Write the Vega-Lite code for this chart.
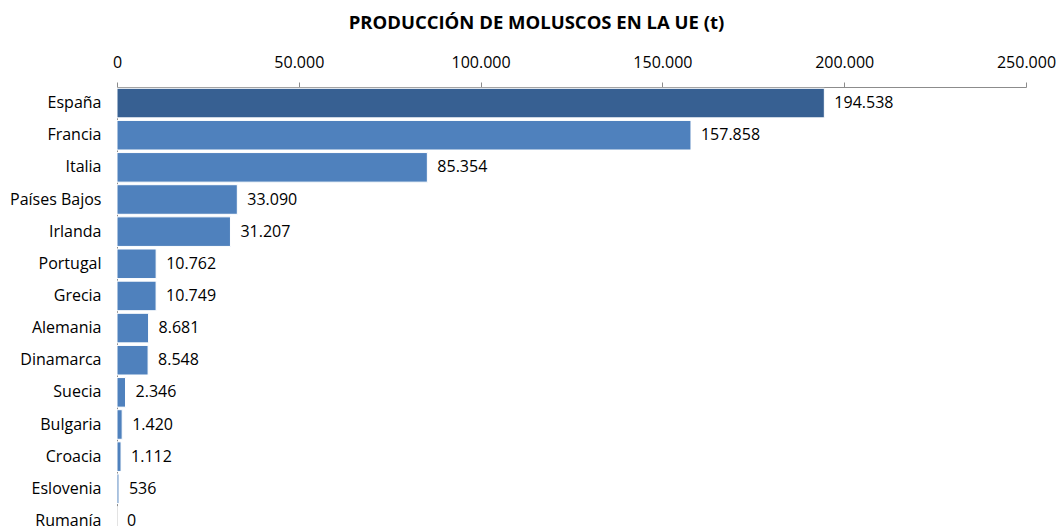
{
  "$schema": "https://vega.github.io/schema/vega-lite/v6.json",
  "autosize": {"type": "none"},
  "width": 909,
  "height": 450,
  "padding": {"left": 117, "top": 87, "right": 32, "bottom": 0},
  "background": "white",
  "config": {
    "locale": {"number": {"decimal": ",", "thousands": ".", "grouping": [3], "currency": ["", " €"]}},
    "view": {"stroke": null},
    "font": "Open Sans"
  },
  "title": {
    "text": "PRODUCCIÓN DE MOLUSCOS EN LA UE (t)",
    "fontSize": 18.5,
    "fontWeight": "bold",
    "font": "Open Sans",
    "color": "black",
    "dx": -35,
    "offset": 22
  },
  "data": {
    "values": [
      {"pais": "España", "t": 194538},
      {"pais": "Francia", "t": 157858},
      {"pais": "Italia", "t": 85354},
      {"pais": "Países Bajos", "t": 33090},
      {"pais": "Irlanda", "t": 31207},
      {"pais": "Portugal", "t": 10762},
      {"pais": "Grecia", "t": 10749},
      {"pais": "Alemania", "t": 8681},
      {"pais": "Dinamarca", "t": 8548},
      {"pais": "Suecia", "t": 2346},
      {"pais": "Bulgaria", "t": 1420},
      {"pais": "Croacia", "t": 1112},
      {"pais": "Eslovenia", "t": 536},
      {"pais": "Rumanía", "t": 0}
    ]
  },
  "encoding": {
    "y": {
      "field": "pais",
      "type": "nominal",
      "sort": null,
      "scale": {"paddingInner": 0.08, "paddingOuter": 0.04},
      "axis": {
        "title": null,
        "ticks": false,
        "domainColor": "#8c8c8c",
        "labelFontSize": 16,
        "labelColor": "black",
        "labelPadding": 16,
        "labelFont": "Open Sans"
      }
    },
    "x": {
      "field": "t",
      "type": "quantitative",
      "scale": {"domain": [0, 250000], "nice": false},
      "axis": {
        "orient": "top",
        "title": null,
        "grid": false,
        "values": [0, 50000, 100000, 150000, 200000, 250000],
        "format": ",d",
        "domainColor": "#8c8c8c",
        "tickColor": "#8c8c8c",
        "tickSize": 5,
        "labelFontSize": 16,
        "labelColor": "black",
        "labelPadding": 12,
        "labelFont": "Open Sans",
        "labelFlush": false
      }
    }
  },
  "layer": [
    {
      "mark": {"type": "bar", "stroke": "white", "strokeWidth": 1},
      "encoding": {
        "color": {
          "condition": {"test": "datum.pais === 'España'", "value": "#376092"},
          "value": "#4F81BD"
        }
      }
    },
    {
      "mark": {"type": "text", "align": "left", "baseline": "middle", "dx": 10, "fontSize": 16, "color": "black", "font": "Open Sans"},
      "encoding": {
        "text": {"field": "t", "type": "quantitative", "format": ",d"}
      }
    }
  ]
}
